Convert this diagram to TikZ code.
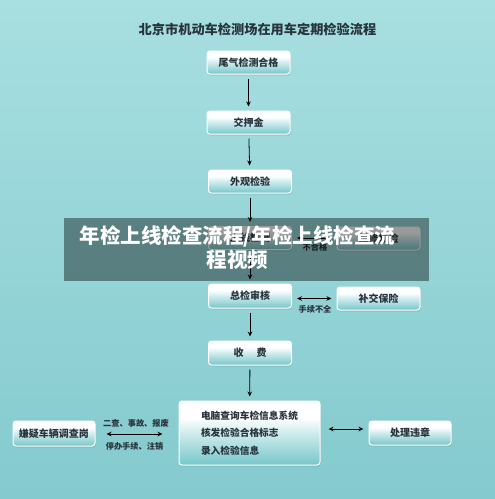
\documentclass[tikz,border=0pt]{standalone}
\usepackage{fontspec}
\setmainfont{Noto Sans CJK SC}
\usetikzlibrary{shadows,arrows.meta}
\definecolor{bgtop}{RGB}{168,223,225}
\definecolor{bgbot}{RGB}{132,202,206}
\definecolor{boxteal}{RGB}{62,176,180}
\definecolor{txtdark}{RGB}{40,52,60}
\pgfdeclareverticalshading{boxshade}{100bp}{color(0bp)=(boxteal); color(20bp)=(boxteal!80!white); color(50bp)=(boxteal!25!white); color(62bp)=(white); color(100bp)=(white)}
\tikzset{
  flowbox/.style={rectangle, rounded corners=3pt, draw=white, line width=1pt,
    shading=boxshade, drop shadow={opacity=0.25, shadow xshift=0.8pt, shadow yshift=-1.5pt},
    minimum width=83pt, minimum height=23pt, inner sep=2pt, text=txtdark,
    font=\bfseries\fontsize{10}{12}\selectfont},
  flowarrow/.style={-{Stealth[length=5pt,width=4.5pt]}, line width=0.8pt, black, shorten <=4pt, shorten >=4pt},
  duoarrow/.style={{Stealth[length=5pt,width=4.5pt]}-{Stealth[length=5pt,width=4.5pt]}, line width=0.8pt, black},
  smalllabel/.style={text=txtdark, font=\bfseries\fontsize{8.2}{10}\selectfont, inner sep=0pt},
}
\begin{document}
\begin{tikzpicture}[x=1pt,y=-1pt]
\useasboundingbox (0,0) rectangle (495,499);
\fill[top color=bgtop, bottom color=bgbot] (0,0) rectangle (495,499);

\node[text=txtdark, font=\bfseries\fontsize{13.2}{15}\selectfont] (title) at (257.5,29) {北京市机动车检测场在用车定期检验流程};

\node[flowbox] (b1) at (248.5,62.5) {尾气检测合格};
\node[flowbox] (b2) at (248.5,122.5) {交押金};
\node[flowbox] (b3) at (250,181.5) {外观检验};
\node[flowbox] (b4) at (250,238) {上线检测};
\node[flowbox] (r4) at (378.5,238.5) {维修复检};
\node[flowbox, minimum height=24pt] (b5) at (250,296) {总检审核};
\node[flowbox] (r5) at (378.5,298.5) {补交保险};
\node[flowbox, minimum height=24pt] (b6) at (250,353) {收\hspace{1.3em}费};
\node[flowbox, minimum width=141pt, minimum height=64pt, align=left,
  font=\bfseries\fontsize{9.7}{17.5}\selectfont] (big) at (249.5,433)
  {电脑查询车检信息系统\\核发检验合格标志\\录入检验信息};
\node[flowbox, minimum width=82pt, minimum height=25pt] (lft) at (54,433.5) {嫌疑车辆调查岗};
\node[flowbox, minimum width=82pt, minimum height=24pt] (rgt) at (410,433) {处理违章};

\draw[flowarrow] (b1) -- (b2);
\draw[flowarrow] (b2) -- (b3);
\draw[flowarrow] (b3) -- (b4);
\draw[flowarrow] (b4) -- (b5);
\draw[flowarrow] (b5) -- (b6);
\draw[flowarrow] (b6) -- (big);

\draw[duoarrow, shorten <=5pt, shorten >=5pt] (b4.east) -- (b4.east -| r4.west);
\node[smalllabel] (l4) at (315,247.5) {不合格};
\draw[duoarrow, shorten <=5pt, shorten >=5pt] (b5.east |- r5.west) -- (r5.west);
\node[smalllabel] (l5) at (315,309.5) {手续不全};
\draw[duoarrow, shorten <=11pt, shorten >=16pt] (lft.east |- 0,434) -- (big.west |- 0,434);
\node[smalllabel] (l6) at (136,423) {二查、事故、报废};
\node[smalllabel] (l7) at (134.5,446) {停办手续、注销};
\draw[duoarrow, shorten <=8pt, shorten >=5pt] (big.east |- 0,429) -- (rgt.west |- 0,429);

\fill[black, opacity=0.4] (64,218) rectangle (429,281);
\node[text=white, align=center, inner sep=0pt,
  font=\bfseries\fontsize{20.5}{24}\selectfont] (banner) at (237.5,248)
  {年检上线检查流程/年检上线检查流\\程视频};
\end{tikzpicture}
\end{document}
